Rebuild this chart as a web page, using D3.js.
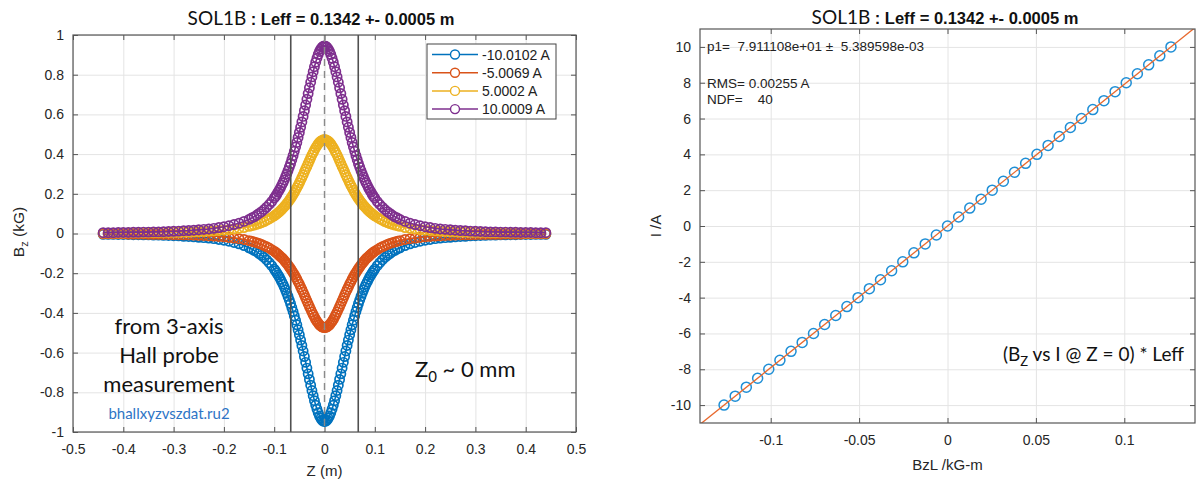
<!DOCTYPE html>
<html>
<head>
<meta charset="utf-8">
<script src="https://cdn.jsdelivr.net/npm/d3@7"></script>
<style>
  html, body { margin: 0; padding: 0; background: #fff; }
  svg { display: block; }
  text { font-family: "Liberation Sans", Arial, sans-serif; }
</style>
</head>
<body>
<svg id="chart" width="1196" height="483"></svg>
<script>
// ---------- Left panel: Bz(z) profiles from the Hall probe scan ----------
const zMeters = [
  -0.44,-0.43,-0.42,-0.41,-0.40,-0.39,-0.38,-0.37,-0.36,-0.35,-0.34,-0.33,-0.32,-0.31,-0.30,-0.29,-0.28,-0.27,-0.26,-0.25,-0.24,-0.23,-0.22,-0.21,-0.20,-0.19,-0.18,-0.17,-0.16,
  -0.15,-0.145,-0.14,-0.135,-0.13,-0.125,-0.12,-0.115,-0.11,-0.105,
  -0.1,-0.0975,-0.095,-0.0925,-0.09,-0.0875,-0.085,-0.0825,-0.08,-0.0775,-0.075,-0.0725,-0.07,-0.0675,-0.065,-0.0625,-0.06,-0.0575,-0.055,-0.0525,-0.05,-0.0475,-0.045,-0.0425,-0.04,-0.0375,-0.035,-0.0325,-0.03,-0.0275,-0.025,-0.0225,-0.02,-0.0175,-0.015,-0.0125,-0.01,-0.0075,-0.005,-0.0025,
  0,
  0.0025,0.005,0.0075,0.01,0.0125,0.015,0.0175,0.02,0.0225,0.025,0.0275,0.03,0.0325,0.035,0.0375,0.04,0.0425,0.045,0.0475,0.05,0.0525,0.055,0.0575,0.06,0.0625,0.065,0.0675,0.07,0.0725,0.075,0.0775,0.08,0.0825,0.085,0.0875,0.09,0.0925,0.095,0.0975,0.1,
  0.105,0.11,0.115,0.12,0.125,0.13,0.135,0.14,0.145,0.15,
  0.16,0.17,0.18,0.19,0.20,0.21,0.22,0.23,0.24,0.25,0.26,0.27,0.28,0.29,0.30,0.31,0.32,0.33,0.34,0.35,0.36,0.37,0.38,0.39,0.40,0.41,0.42,0.43,0.44
];

// Bz in kG at each z, one array per coil current
const bzMinus10A = [
  -0.004,-0.004,-0.004,-0.005,-0.005,-0.005,-0.006,-0.006,-0.007,-0.007,-0.008,-0.008,-0.009,-0.010,-0.011,-0.012,-0.014,-0.015,-0.017,-0.019,-0.021,-0.023,-0.026,-0.030,-0.034,-0.039,-0.045,-0.052,-0.061,
  -0.072,-0.078,-0.085,-0.092,-0.101,-0.110,-0.121,-0.133,-0.147,-0.162,
  -0.179,-0.188,-0.198,-0.208,-0.219,-0.231,-0.243,-0.256,-0.270,-0.285,-0.301,-0.317,-0.335,-0.353,-0.373,-0.393,-0.415,-0.437,-0.460,-0.485,-0.510,-0.537,-0.564,-0.592,-0.620,-0.649,-0.678,-0.707,-0.735,-0.764,-0.791,-0.817,-0.842,-0.865,-0.885,-0.903,-0.919,-0.931,-0.940,-0.945,
  -0.947,
  -0.945,-0.940,-0.931,-0.919,-0.903,-0.885,-0.865,-0.842,-0.817,-0.791,-0.764,-0.735,-0.707,-0.678,-0.649,-0.620,-0.592,-0.564,-0.537,-0.510,-0.485,-0.460,-0.437,-0.415,-0.393,-0.373,-0.353,-0.335,-0.317,-0.301,-0.285,-0.270,-0.256,-0.243,-0.231,-0.219,-0.208,-0.198,-0.188,-0.179,
  -0.162,-0.147,-0.133,-0.121,-0.110,-0.101,-0.092,-0.085,-0.078,-0.072,
  -0.061,-0.052,-0.045,-0.039,-0.034,-0.030,-0.026,-0.023,-0.021,-0.019,-0.017,-0.015,-0.014,-0.012,-0.011,-0.010,-0.009,-0.008,-0.008,-0.007,-0.007,-0.006,-0.006,-0.005,-0.005,-0.005,-0.004,-0.004,-0.004
];
const bzMinus5A = [
  -0.002,-0.002,-0.002,-0.002,-0.002,-0.003,-0.003,-0.003,-0.003,-0.004,-0.004,-0.004,-0.005,-0.005,-0.006,-0.006,-0.007,-0.007,-0.008,-0.009,-0.010,-0.012,-0.013,-0.015,-0.017,-0.020,-0.023,-0.026,-0.030,
  -0.036,-0.039,-0.042,-0.046,-0.050,-0.055,-0.061,-0.067,-0.073,-0.081,
  -0.089,-0.094,-0.099,-0.104,-0.110,-0.116,-0.122,-0.128,-0.135,-0.143,-0.151,-0.159,-0.168,-0.177,-0.187,-0.197,-0.207,-0.219,-0.230,-0.243,-0.255,-0.269,-0.282,-0.296,-0.310,-0.325,-0.339,-0.354,-0.368,-0.382,-0.396,-0.409,-0.421,-0.433,-0.443,-0.452,-0.460,-0.466,-0.470,-0.473,
  -0.474,
  -0.473,-0.470,-0.466,-0.460,-0.452,-0.443,-0.433,-0.421,-0.409,-0.396,-0.382,-0.368,-0.354,-0.339,-0.325,-0.310,-0.296,-0.282,-0.269,-0.255,-0.243,-0.230,-0.219,-0.207,-0.197,-0.187,-0.177,-0.168,-0.159,-0.151,-0.143,-0.135,-0.128,-0.122,-0.116,-0.110,-0.104,-0.099,-0.094,-0.089,
  -0.081,-0.073,-0.067,-0.061,-0.055,-0.050,-0.046,-0.042,-0.039,-0.036,
  -0.030,-0.026,-0.023,-0.020,-0.017,-0.015,-0.013,-0.012,-0.010,-0.009,-0.008,-0.007,-0.007,-0.006,-0.006,-0.005,-0.005,-0.004,-0.004,-0.004,-0.003,-0.003,-0.003,-0.003,-0.002,-0.002,-0.002,-0.002,-0.002
];
const bzPlus5A = [
  0.002,0.002,0.002,0.002,0.002,0.003,0.003,0.003,0.003,0.004,0.004,0.004,0.005,0.005,0.006,0.006,0.007,0.007,0.008,0.009,0.010,0.012,0.013,0.015,0.017,0.020,0.023,0.026,0.030,
  0.036,0.039,0.042,0.046,0.050,0.055,0.060,0.067,0.073,0.081,
  0.089,0.094,0.099,0.104,0.109,0.115,0.122,0.128,0.135,0.142,0.150,0.158,0.167,0.176,0.186,0.196,0.207,0.218,0.230,0.242,0.255,0.268,0.282,0.295,0.310,0.324,0.338,0.353,0.367,0.381,0.395,0.408,0.420,0.432,0.442,0.451,0.459,0.465,0.469,0.472,
  0.473,
  0.472,0.469,0.465,0.459,0.451,0.442,0.432,0.420,0.408,0.395,0.381,0.367,0.353,0.338,0.324,0.310,0.295,0.282,0.268,0.255,0.242,0.230,0.218,0.207,0.196,0.186,0.176,0.167,0.158,0.150,0.142,0.135,0.128,0.122,0.115,0.109,0.104,0.099,0.094,0.089,
  0.081,0.073,0.067,0.060,0.055,0.050,0.046,0.042,0.039,0.036,
  0.030,0.026,0.023,0.020,0.017,0.015,0.013,0.012,0.010,0.009,0.008,0.007,0.007,0.006,0.006,0.005,0.005,0.004,0.004,0.004,0.003,0.003,0.003,0.003,0.002,0.002,0.002,0.002,0.002
];
const bzPlus10A = [
  0.004,0.004,0.004,0.005,0.005,0.005,0.006,0.006,0.007,0.007,0.008,0.008,0.009,0.010,0.011,0.012,0.014,0.015,0.017,0.019,0.021,0.023,0.026,0.030,0.034,0.039,0.045,0.052,0.061,
  0.071,0.078,0.084,0.092,0.101,0.110,0.121,0.133,0.146,0.161,
  0.178,0.187,0.197,0.208,0.219,0.230,0.243,0.256,0.270,0.285,0.300,0.317,0.334,0.352,0.372,0.392,0.414,0.436,0.459,0.484,0.509,0.535,0.562,0.590,0.619,0.647,0.676,0.705,0.734,0.762,0.789,0.815,0.840,0.863,0.883,0.902,0.917,0.929,0.938,0.943,
  0.945,
  0.943,0.938,0.929,0.917,0.902,0.883,0.863,0.840,0.815,0.789,0.762,0.734,0.705,0.676,0.647,0.619,0.590,0.562,0.535,0.509,0.484,0.459,0.436,0.414,0.392,0.372,0.352,0.334,0.317,0.300,0.285,0.270,0.256,0.243,0.230,0.219,0.208,0.197,0.187,0.178,
  0.161,0.146,0.133,0.121,0.110,0.101,0.092,0.084,0.078,0.071,
  0.061,0.052,0.045,0.039,0.034,0.030,0.026,0.023,0.021,0.019,0.017,0.015,0.014,0.012,0.011,0.010,0.009,0.008,0.008,0.007,0.007,0.006,0.006,0.005,0.005,0.005,0.004,0.004,0.004
];
const seriesLabels = ["-10.0102 A", "-5.0069 A", "5.0002 A", "10.0009 A"];

const zTicks = [-0.5, -0.4, -0.3, -0.2, -0.1, 0, 0.1, 0.2, 0.3, 0.4, 0.5];
const zTickLabels = ["-0.5", "-0.4", "-0.3", "-0.2", "-0.1", "0", "0.1", "0.2", "0.3", "0.4", "0.5"];
const bzTicks = [-1, -0.8, -0.6, -0.4, -0.2, 0, 0.2, 0.4, 0.6, 0.8, 1];
const bzTickLabels = ["-1", "-0.8", "-0.6", "-0.4", "-0.2", "0", "0.2", "0.4", "0.6", "0.8", "1"];

// Effective length (m) and its uncertainty
const leff = 0.1342;
const leffErr = 0.0005;

// ---------- Right panel: current vs integrated field ----------
const currentA = [-10,-9.5,-9,-8.5,-8,-7.5,-7,-6.5,-6,-5.5,-5,-4.5,-4,-3.5,-3,-2.5,-2,-1.5,-1,-0.5,0,0.5,1,1.5,2,2.5,3,3.5,4,4.5,5,5.5,6,6.5,7,7.5,8,8.5,9,9.5,10];
const bzlKGm = [-0.1264,-0.1201,-0.1138,-0.1074,-0.1011,-0.0948,-0.0885,-0.0822,-0.0758,-0.0695,-0.0632,-0.0569,-0.0506,-0.0442,-0.0379,-0.0316,-0.0253,-0.0190,-0.0126,-0.0063,0.0000,0.0063,0.0126,0.0190,0.0253,0.0316,0.0379,0.0442,0.0506,0.0569,0.0632,0.0695,0.0758,0.0822,0.0885,0.0948,0.1011,0.1074,0.1138,0.1201,0.1264];
const fitP1 = 79.11108;

const bzlTicks = [-0.1, -0.05, 0, 0.05, 0.1];
const bzlTickLabels = ["-0.1", "-0.05", "0", "0.05", "0.1"];
const iTicks = [-10, -8, -6, -4, -2, 0, 2, 4, 6, 8, 10];
const iTickLabels = ["-10", "-8", "-6", "-4", "-2", "0", "2", "4", "6", "8", "10"];

// ---------- styling ----------
const colors = ["#0072BD", "#D95319", "#EDB120", "#7E2F8E"];
const AXIS = "#555";
const GRID = "#e4e4e4";
const TICK_TEXT = "#262626";
const CALIBRI = "Lato, 'Open Sans', sans-serif";

const svg = d3.select("#chart");

// Draws grid, inward ticks on all four sides and tick labels.
function drawFrame(g, x, y, xt, xtl, yt, ytl, opts) {
  const [x0, x1] = x.range();
  const [y1, y0] = y.range();
  const w = x1 - x0, h = y1 - y0;

  g.append("g").attr("transform", `translate(0,${y1})`)
    .call(d3.axisBottom(x).tickValues(xt).tickSize(-h).tickFormat(""))
    .call(s => s.select(".domain").remove())
    .selectAll("line").attr("stroke", GRID).attr("stroke-width", 1);
  g.append("g").attr("transform", `translate(${x0},0)`)
    .call(d3.axisLeft(y).tickValues(yt).tickSize(-w).tickFormat(""))
    .call(s => s.select(".domain").remove())
    .selectAll("line").attr("stroke", GRID).attr("stroke-width", 1);

  const style = s => {
    s.select(".domain").remove();
    s.selectAll("line").attr("stroke", AXIS).attr("stroke-width", 1);
    s.selectAll("text").attr("fill", TICK_TEXT)
      .style("font-family", "'Liberation Sans', Arial, sans-serif")
      .style("font-size", "14px");
  };
  g.append("g").attr("transform", `translate(0,${y1})`)
    .call(d3.axisBottom(x).tickValues(xt).tickSize(-5).tickPadding(opts.xPad)
      .tickFormat((d, i) => xtl[i])).call(style);
  g.append("g").attr("transform", `translate(0,${y0})`)
    .call(d3.axisTop(x).tickValues(xt).tickSize(-5).tickFormat("")).call(style);
  g.append("g").attr("transform", `translate(${x0},0)`)
    .call(d3.axisLeft(y).tickValues(yt).tickSize(-5).tickPadding(opts.yPad)
      .tickFormat((d, i) => ytl[i])).call(style);
  g.append("g").attr("transform", `translate(${x1},0)`)
    .call(d3.axisRight(y).tickValues(yt).tickSize(-5).tickFormat("")).call(style);
}

function drawBox(g, x, y) {
  const [x0, x1] = x.range();
  const [y1, y0] = y.range();
  g.append("rect").attr("x", x0).attr("y", y0)
    .attr("width", x1 - x0).attr("height", y1 - y0)
    .attr("fill", "none").attr("stroke", AXIS).attr("stroke-width", 1.2);
}

function drawTitle(cx, baseline) {
  const t = svg.append("text").attr("x", cx).attr("y", baseline)
    .attr("text-anchor", "middle").attr("fill", "#111");
  t.append("tspan").style("font-family", CALIBRI).style("font-size", "19px").text("SOL1B");
  t.append("tspan").style("font-weight", "bold").style("font-size", "16.5px")
    .text(` : Leff = ${leff.toFixed(4)} +- ${leffErr.toFixed(4)} m`);
}

// ================= Left panel =================
const xL = d3.scaleLinear().domain([-0.5, 0.5]).range([73, 576]);
const yL = d3.scaleLinear().domain([-1, 1]).range([432, 35]);
const gL = svg.append("g");
drawFrame(gL, xL, yL, zTicks, zTickLabels, bzTicks, bzTickLabels, { xPad: 12, yPad: 9 });

const seriesData = [bzMinus10A, bzMinus5A, bzPlus5A, bzPlus10A].map(vals =>
  zMeters.map((z, i) => ({ z, v: vals[i] })));

const lineL = d3.line().x(d => xL(d.z)).y(d => yL(d.v));
seriesData.forEach((rows, k) => {
  const s = gL.append("g");
  s.append("path").datum(rows).attr("d", lineL)
    .attr("fill", "none").attr("stroke", colors[k]).attr("stroke-width", 1.6);
  s.selectAll("circle").data(rows).join("circle")
    .attr("cx", d => xL(d.z)).attr("cy", d => yL(d.v)).attr("r", 4.6)
    .attr("fill", "none").attr("stroke", colors[k]).attr("stroke-width", 1.7);
});

// Magnet edges at ±Leff/2 and the centre line
[-leff / 2, leff / 2].forEach(z => {
  gL.append("line").attr("x1", xL(z)).attr("x2", xL(z))
    .attr("y1", yL(1)).attr("y2", yL(-1))
    .attr("stroke", "#505050").attr("stroke-width", 1.6);
});
gL.append("line").attr("x1", xL(0)).attr("x2", xL(0))
  .attr("y1", yL(1)).attr("y2", yL(-1))
  .attr("stroke", "#8a8a8a").attr("stroke-width", 1.4).attr("stroke-dasharray", "7,5");

drawBox(gL, xL, yL);

// Legend
const lg = gL.append("g");
lg.append("rect").attr("x", 427).attr("y", 44).attr("width", 129).attr("height", 75)
  .attr("fill", "#fff").attr("stroke", "#444").attr("stroke-width", 1);
seriesLabels.forEach((lab, k) => {
  const yy = 54.5 + k * 18.2;
  lg.append("line").attr("x1", 432).attr("x2", 478).attr("y1", yy).attr("y2", yy)
    .attr("stroke", colors[k]).attr("stroke-width", 1.5);
  lg.append("circle").attr("cx", 455).attr("cy", yy).attr("r", 4.5)
    .attr("fill", "#fff").attr("stroke", colors[k]).attr("stroke-width", 1.4);
  lg.append("text").attr("x", 482).attr("y", yy + 5).attr("fill", "#222")
    .style("font-size", "14px").text(lab);
});

// Axis labels
const yLab = svg.append("text").attr("transform", "translate(24,232) rotate(-90)")
  .attr("text-anchor", "middle").attr("fill", TICK_TEXT).style("font-size", "15.5px");
yLab.append("tspan").text("B");
yLab.append("tspan").attr("dy", 4).style("font-size", "11px").text("z");
yLab.append("tspan").attr("dy", -4).text(" (kG)");
svg.append("text").attr("x", xL(0)).attr("y", 476).attr("text-anchor", "middle")
  .attr("fill", TICK_TEXT).style("font-size", "15px").text("Z (m)");

// Annotations
["from 3-axis", "Hall probe", "measurement"].forEach((s, i) => {
  svg.append("text").attr("x", 169).attr("y", 334 + i * 29).attr("text-anchor", "middle")
    .attr("fill", "#111").style("font-family", CALIBRI).style("font-size", "22px").text(s);
});
svg.append("text").attr("x", 169).attr("y", 419).attr("text-anchor", "middle")
  .attr("fill", "#2E75C6").style("font-family", CALIBRI).style("font-size", "15px")
  .text("bhallxyzvszdat.ru2");
const z0 = svg.append("text").attr("x", 415).attr("y", 377).attr("fill", "#111")
  .style("font-family", CALIBRI).style("font-size", "22px");
z0.append("tspan").text("Z");
z0.append("tspan").attr("dy", 5).style("font-size", "15px").text("0");
z0.append("tspan").attr("dy", -5).text(" ~ 0 mm");

drawTitle(321, 25);

// ================= Right panel =================
const xR = d3.scaleLinear().domain([-0.14, 0.14]).range([700, 1195]);
const yR = d3.scaleLinear().domain([-11, 11]).range([423, 29]);
const gR = svg.append("g");
drawFrame(gR, xR, yR, bzlTicks, bzlTickLabels, iTicks, iTickLabels, { xPad: 12, yPad: 9 });

gR.append("clipPath").attr("id", "clipR").append("rect")
  .attr("x", 700).attr("y", 29).attr("width", 495).attr("height", 394);

const pts = currentA.map((c, i) => ({ x: bzlKGm[i], y: c }));
gR.append("g").selectAll("circle").data(pts).join("circle")
  .attr("cx", d => xR(d.x)).attr("cy", d => yR(d.y)).attr("r", 5)
  .attr("fill", "none").attr("stroke", "#1f8fd6").attr("stroke-width", 1.5);

const fitEnds = xR.domain().map(b => ({ x: b, y: fitP1 * b }));
gR.append("path").datum(fitEnds).attr("clip-path", "url(#clipR)")
  .attr("d", d3.line().x(d => xR(d.x)).y(d => yR(d.y)))
  .attr("stroke", "#E8692E").attr("stroke-width", 1.3).attr("fill", "none");

drawBox(gR, xR, yR);

const statStyle = s => s.attr("fill", "#222").style("font-size", "13.5px");
svg.append("text").attr("x", 707).attr("y", 51).call(statStyle)
  .attr("xml:space", "preserve").text("p1=  7.911108e+01 \u00b1  5.389598e-03");
svg.append("text").attr("x", 707).attr("y", 88).call(statStyle).text("RMS= 0.00255 A");
svg.append("text").attr("x", 707).attr("y", 104).call(statStyle)
  .attr("xml:space", "preserve").text("NDF=    40");

const eq = svg.append("text").attr("x", 1003).attr("y", 361).attr("fill", "#111")
  .style("font-family", CALIBRI).style("font-size", "19px");
eq.append("tspan").text("(B");
eq.append("tspan").attr("dy", 5).style("font-size", "13px").text("Z");
eq.append("tspan").attr("dy", -5).text(" vs I @ Z = 0) * Leff");

svg.append("text").attr("transform", "translate(661,226) rotate(-90)")
  .attr("text-anchor", "middle").attr("fill", TICK_TEXT).style("font-size", "15px").text("I /A");
svg.append("text").attr("x", xR(0)).attr("y", 470).attr("text-anchor", "middle")
  .attr("fill", TICK_TEXT).style("font-size", "15px").text("BzL /kG-m");

drawTitle(945, 24);
</script>
</body>
</html>
